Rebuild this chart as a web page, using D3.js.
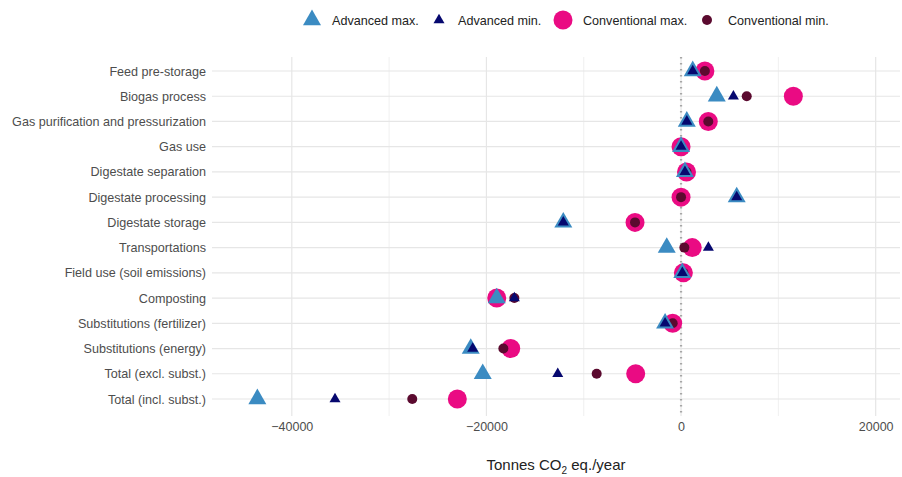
<!DOCTYPE html>
<html>
<head>
<meta charset="utf-8">
<script src="https://cdn.jsdelivr.net/npm/d3@7"></script>
<style>
  body { margin: 0; background: #fff; }
  text { font-family: "Liberation Sans", Arial, sans-serif; }
</style>
</head>
<body>
<svg id="chart" width="902" height="477"></svg>
<script>
const categories = [
  "Feed pre-storage",
  "Biogas process",
  "Gas purification and pressurization",
  "Gas use",
  "Digestate separation",
  "Digestate processing",
  "Digestate storage",
  "Transportations",
  "Field use (soil emissions)",
  "Composting",
  "Substitutions (fertilizer)",
  "Substitutions (energy)",
  "Total (excl. subst.)",
  "Total (incl. subst.)",
];

const advancedMax = [1200, 3670, 590, 0, 400, 5720, -12100, -1470, 130, -18940, -1640, -21610, -20380, -43540];
const advancedMin = [1200, 5380, 590, 0, 400, 5720, -12100, 2810, 130, -17130, -1640, -21410, -12670, -35560];
const conventionalMax = [2450, 11540, 2800, 0, 560, 0, -4730, 1150, 240, -18940, -860, -17500, -4660, -22990];
const conventionalMin = [2450, 6750, 2800, 0, 560, 0, -4730, 340, 240, -17130, -860, -18260, -8670, -27620];

const xTicks = [-40000, -20000, 0, 20000];
const xMinor = [-30000, -10000, 10000];

const series = [
  { name: "Conventional max.", values: conventionalMax, shape: "circle", size: 9.5, color: "#ea0b83" },
  { name: "Conventional min.", values: conventionalMin, shape: "circle", size: 5, color: "#5b0a2f" },
  { name: "Advanced max.", values: advancedMax, shape: "triangle", size: 18, color: "#3b8bc2" },
  { name: "Advanced min.", values: advancedMin, shape: "triangle", size: 11, color: "#06086f" },
];
const legendOrder = ["Advanced max.", "Advanced min.", "Conventional max.", "Conventional min."];

const svg = d3.select("#chart");
const margin = { top: 57, right: 2, bottom: 61, left: 212 };
const W = 902, H = 477;
const w = W - margin.left - margin.right, h = H - margin.top - margin.bottom;

const x = d3.scaleLinear().domain([-48200, 22500]).range([0, w]);
const y = d3.scalePoint().domain(categories).range([14, h - 17]);

const g = svg.append("g").attr("transform", `translate(${margin.left},${margin.top})`);

// grid
g.selectAll(".minor").data(xMinor).enter().append("line")
  .attr("x1", d => x(d)).attr("x2", d => x(d)).attr("y1", 0).attr("y2", h)
  .attr("stroke", "#ececec").attr("stroke-width", 0.8);
g.selectAll(".major").data(xTicks).enter().append("line")
  .attr("x1", d => x(d)).attr("x2", d => x(d)).attr("y1", 0).attr("y2", h)
  .attr("stroke", "#e6e6e6").attr("stroke-width", 1.2);
g.selectAll(".hgrid").data(categories).enter().append("line")
  .attr("x1", 0).attr("x2", w).attr("y1", d => y(d)).attr("y2", d => y(d))
  .attr("stroke", "#e6e6e6").attr("stroke-width", 1.2);

// zero line
g.append("line")
  .attr("x1", x(0)).attr("x2", x(0)).attr("y1", 0).attr("y2", h)
  .attr("stroke", "#a6a6a6").attr("stroke-width", 2.2)
  .attr("stroke-dasharray", "1.5,4.5");

// axes
const xAxis = d3.axisBottom(x).tickValues(xTicks).tickSize(0).tickPadding(6).tickFormat(d3.format("d"));
const gx = g.append("g").attr("transform", `translate(0,${h})`).call(xAxis);
gx.select(".domain").remove();
gx.selectAll("text").attr("font-size", 12.5).attr("fill", "#4d4d4d");

const yAxis = d3.axisLeft(y).tickSize(0).tickPadding(6);
const gy = g.append("g").call(yAxis);
gy.select(".domain").remove();
gy.selectAll("text").attr("font-size", 12.6).attr("fill", "#4d4d4d");

// points
const triangle = d3.symbol().type(d3.symbolTriangle);
series.forEach(s => {
  const pts = g.append("g").selectAll("path").data(s.values).enter().append("path")
    .attr("fill", s.color);
  if (s.shape === "circle") {
    pts.attr("d", d3.symbol().type(d3.symbolCircle).size(Math.PI * s.size * s.size)())
      .attr("transform", (d, i) => `translate(${x(d)},${y(categories[i])})`);
  } else {
    const area = Math.sqrt(3) / 4 * s.size * s.size;
    pts.attr("d", triangle.size(area)())
      .attr("transform", (d, i) => `translate(${x(d)},${y(categories[i])})`);
  }
});

// axis title
const title = svg.append("text")
  .attr("x", margin.left + w / 2).attr("y", 470)
  .attr("text-anchor", "middle")
  .attr("font-size", 15).attr("fill", "#222");
title.append("tspan").text("Tonnes CO");
title.append("tspan").attr("font-size", 10).attr("dy", 4).text("2");
title.append("tspan").attr("dy", -4).text(" eq./year");

// legend
const legendX = { "Advanced max.": 312, "Advanced min.": 439, "Conventional max.": 563, "Conventional min.": 707 };
const legendText = { "Advanced max.": 332, "Advanced min.": 458, "Conventional max.": 583, "Conventional min.": 728 };
const legend = svg.append("g");
legendOrder.forEach(name => {
  const s = series.find(d => d.name === name);
  const item = legend.append("g").attr("transform", `translate(${legendX[name]},20)`);
  if (s.shape === "circle") {
    item.append("path").attr("d", d3.symbol().type(d3.symbolCircle).size(Math.PI * s.size * s.size)()).attr("fill", s.color);
  } else {
    item.append("path").attr("d", triangle.size(Math.sqrt(3) / 4 * s.size * s.size)()).attr("fill", s.color);
  }
  legend.append("text").attr("x", legendText[name]).attr("y", 24.5)
    .attr("font-size", 12.6).attr("fill", "#222").text(s.name);
});
</script>
</body>
</html>
